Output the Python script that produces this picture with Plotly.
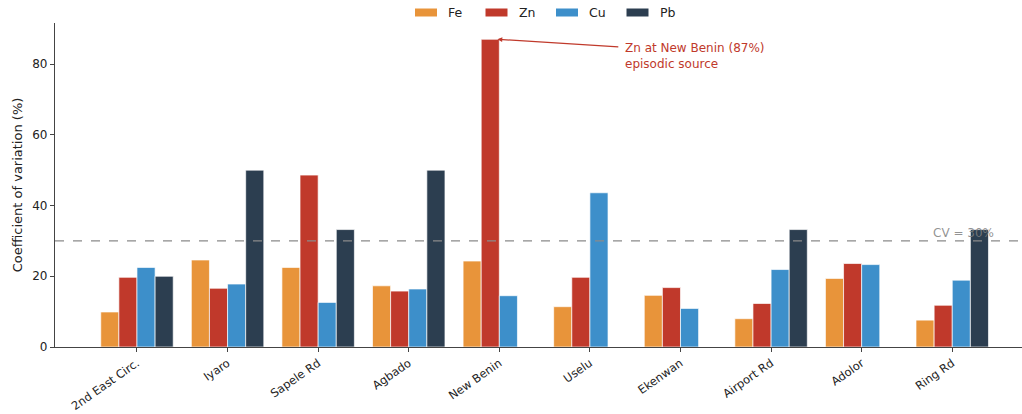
import plotly.graph_objects as go

sites = ["2nd East Circ.", "Iyaro", "Sapele Rd", "Agbado", "New Benin",
         "Uselu", "Ekenwan", "Airport Rd", "Adolor", "Ring Rd"]

fe = [9.9, 24.6, 22.5, 17.3, 24.3, 11.4, 14.6, 8.0, 19.4, 7.6]
zn = [19.7, 16.6, 48.6, 15.8, 87.0, 19.7, 16.8, 12.3, 23.6, 11.8]
cu = [22.5, 17.8, 12.6, 16.4, 14.5, 43.6, 10.9, 21.9, 23.3, 18.9]
pb = [20.0, 50.0, 33.2, 50.0, None, None, None, 33.2, None, 33.2]

metals = ["Fe", "Zn", "Cu", "Pb"]
series = [fe, zn, cu, pb]
colors = ["#E8943A", "#C0392B", "#3D8FCA", "#2C3E50"]

cv_threshold = 30
peak_site = "New Benin"
peak_value = 87

font = "DejaVu Sans"
xpos = list(range(len(sites)))

W, H = 1022, 414
ML, MR, MT, MB = 55, 0, 23, 67
plot_w = W - ML - MR
plot_h = H - MT - MB


def px_x(px):
    return (px - ML) / plot_w


def px_y(py):
    return (H - MB - py) / plot_h


fig = go.Figure()
for name, vals, col in zip(metals, series, colors):
    fig.add_trace(go.Bar(
        x=xpos, y=vals, name=name, showlegend=False,
        marker=dict(color=col, line=dict(color="rgba(255,255,255,0.85)", width=0.8)),
    ))

# legend row above the axes: wide colour patches followed by labels
legend_x0 = 415
legend_step = 70.5
for i, (name, col) in enumerate(zip(metals, colors)):
    x0 = legend_x0 + i * legend_step
    fig.add_shape(type="rect", xref="paper", yref="paper",
                  x0=px_x(x0), x1=px_x(x0 + 22), y0=px_y(16.5), y1=px_y(8.5),
                  fillcolor=col, line=dict(width=0))
    fig.add_annotation(xref="paper", yref="paper", x=px_x(x0 + 31), y=px_y(12.5),
                       text=name, showarrow=False, xanchor="left", yanchor="middle",
                       font=dict(family=font, size=12.5, color="#222"))

# threshold line
fig.add_shape(type="line", xref="paper", yref="y", x0=0, x1=1,
              y0=cv_threshold, y1=cv_threshold,
              line=dict(color="#8a8a8a", width=1.1, dash="dash"))
fig.add_annotation(x=9.48, y=cv_threshold, xref="x", yref="y",
                   text=f"CV = {cv_threshold}%", showarrow=False,
                   xanchor="right", yanchor="bottom", yshift=-1,
                   font=dict(family=font, size=12, color="rgba(128,128,128,0.85)"))

# callout on the Zn peak: arrow, then the two-line note beside its tail
pi = sites.index(peak_site)
fig.add_annotation(x=pi - 0.02, y=peak_value, xref="x", yref="y",
                   ax=5.33, ay=84.8, axref="x", ayref="y", text="",
                   showarrow=True, arrowhead=2, arrowsize=0.8, arrowwidth=1.2,
                   arrowcolor="#C0392B")
fig.add_annotation(x=5.37, y=84.8, xref="x", yref="y",
                   text=f"Zn at {peak_site} ({peak_value}%)<br>episodic source",
                   showarrow=False, xanchor="left", yanchor="top", yshift=8,
                   align="left", font=dict(family=font, size=12, color="#C0392B"))

fig.update_layout(
    width=W, height=H,
    margin=dict(l=ML, r=MR, t=MT, b=MB, autoexpand=False),
    paper_bgcolor="white", plot_bgcolor="white",
    barmode="group", bargap=0.2, bargroupgap=0,
    font=dict(family=font, size=12, color="#222"),
    showlegend=False,
    xaxis=dict(
        range=[-0.905, 9.77], tickmode="array", tickvals=xpos, ticktext=sites,
        tickangle=-35, showline=True, linecolor="#444", linewidth=1.2,
        ticks="outside", ticklen=4, tickcolor="#444", showgrid=False, zeroline=False,
        tickfont=dict(size=11.5),
    ),
    yaxis=dict(
        range=[0, 91.6], tickvals=[0, 20, 40, 60, 80],
        showline=True, linecolor="#444", linewidth=1.2,
        ticks="outside", ticklen=4, tickcolor="#444", showgrid=False, zeroline=False,
        title=dict(text="Coefficient of variation (%)", font=dict(size=13), standoff=6),
        tickfont=dict(size=12),
    ),
)

fig.write_html("out.html")
